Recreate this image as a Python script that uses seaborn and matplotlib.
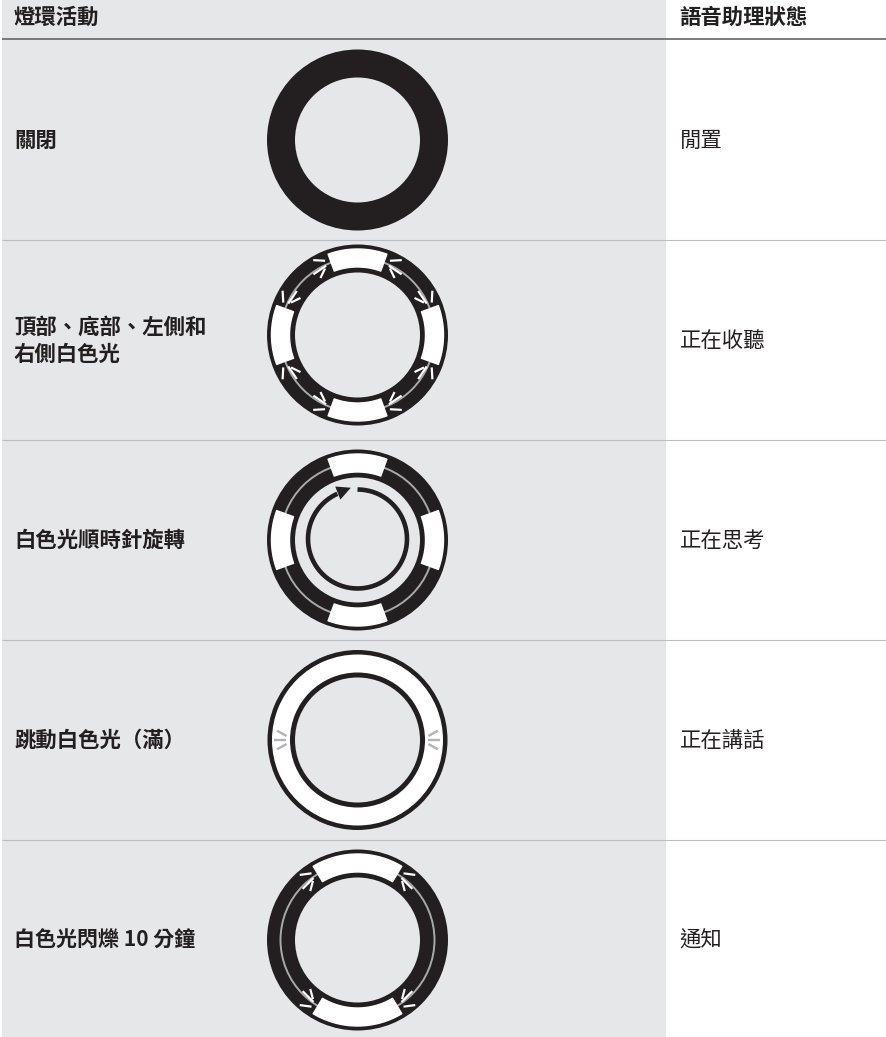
#!/usr/bin/env python3
# light ring status table, drawn on a pixel sized axes
import matplotlib
matplotlib.use("Agg")
import matplotlib.pyplot as plt
from matplotlib.patches import Wedge, Circle
import numpy as np
import pandas as pd
import seaborn as sns

header_left = "燈環活動"
header_right = "語音助理狀態"
activities = ["關閉", "頂部、底部、左側和\n右側白色光", "白色光順時針旋轉", "跳動白色光（滿）", "白色光閃爍 10 分鐘"]
states = ["閒置", "正在收聽", "正在思考", "正在講話", "通知"]

row_tops = [40, 240, 440, 640, 840]
row_heights = [200, 200, 200, 200, 197]
ring_ys = [140, 335, 540, 740, 940]
text_ys = [140, 341, 540, 740, 940.5]
text_sizes = [15.4, 15.4, 15.4, 15.4, 15.1]

# clock angles (degrees from 12 o'clock) of the lit segments per row
seg_centres = [[], [0, 90, 180, 270], [0, 90, 180, 270], [], [0, 180]]
seg_halfwidths = [0, 20, 20, 0, 31]
ray_rows = [False, True, False, False, True]

# ticks next to a segment edge: offset angle and radius at both ends
tick_a1 = [3.6, 13.0, 4.4]
tick_r1 = [81, 68, 76]
tick_a2 = [10.6, 6.0, 16.0]
tick_r2 = [87, 74, 75]

INK = "#231f20"
BAND = "#e6e7e8"
GREY = "#a7a9ac"
RC = 357.5
FS = 15.4

sns.set_theme(style="white", rc={"lines.solid_capstyle": "butt"})
plt.rcParams["font.family"] = ["Noto Sans CJK TC", "DejaVu Sans"]


def clock(cx, cy, r, a):
    a = np.radians(a)
    return cx + r * np.sin(a), cy - r * np.cos(a)


def draw_lines(ax, segs, color, px):
    rows = []
    for i, (xs, ys) in enumerate(segs):
        for x, y in zip(xs, ys):
            rows.append({"x": x, "y": y, "seg": i})
    df = pd.DataFrame(rows)
    sns.lineplot(data=df, x="x", y="y", units="seg", estimator=None, sort=False,
                 color=color, linewidth=px * 0.72, ax=ax, legend=False, zorder=6)


def segment(ax, cx, cy, mid, half):
    a = np.linspace(mid - half, mid + half, 40)
    xo, yo = clock(cx, cy, 86, a)
    xi, yi = clock(cx, cy, 68, a[::-1])
    ax.fill(np.r_[xo, xi], np.r_[yo, yi], color="white", lw=1.0, joinstyle="round", zorder=5)


def edge_ticks(cx, cy, edge, side):
    out = []
    for a1, r1, a2, r2 in zip(tick_a1, tick_r1, tick_a2, tick_r2):
        x1, y1 = clock(cx, cy, r1, edge + side * a1)
        x2, y2 = clock(cx, cy, r2, edge + side * a2)
        out.append(([x1, x2], [y1, y2]))
    return out


fig = plt.figure(figsize=(8.87, 10.37), dpi=100)
ax = fig.add_axes([0, 0, 1, 1])

bands = pd.DataFrame({"row": [t + h / 2 for t, h in zip(row_tops, row_heights)], "width": [664] * 5})
sns.barplot(data=bands, x="width", y="row", orient="h", native_scale=True, left=2,
            width=200, color=BAND, saturation=1, edgecolor=BAND, linewidth=0, ax=ax)
ax.set_xlim(0, 887)
ax.set_ylim(1037, 0)
ax.axis("off")

# header + row rules
ax.text(13.5, 17.5, header_left, fontsize=FS, fontweight="black", color=INK, va="center", ha="left")
ax.text(679.5, 17.5, header_right, fontsize=FS, fontweight="black", color=INK, va="center", ha="left")
ax.plot([2, 887], [39, 39], color="#58595b", lw=1.1, zorder=3)
for t in row_tops[1:]:
    ax.plot([2, 887], [t, t], color="#bcbec0", lw=0.8, zorder=3)

for i in range(len(row_tops)):
    cy = ring_ys[i]
    ax.text(14, text_ys[i], activities[i], fontsize=text_sizes[i], fontweight="black", color=INK, va="center", ha="left", linespacing=1.35)
    ax.text(679.5, row_tops[i] + 101, states[i], fontsize=FS, color=INK, va="center", ha="left")

    if i == 3:
        # full white ring, only thin outlines
        ax.add_patch(Wedge((RC, cy), 90, 0, 360, width=27.5, color=INK, lw=0, zorder=4))
        ax.add_patch(Wedge((RC, cy), 85.5, 0, 360, width=18, color="white", lw=0, zorder=5))
        ticks = []
        for mid in (90, 270):
            ticks.append(clock(RC, cy, np.array([71, 83]), np.array([mid, mid])))
            for side in (-1, 1):
                ticks.append(clock(RC, cy, np.array([71, 81]), mid + side * np.array([3.2, 6.6])))
        draw_lines(ax, ticks, "#b1b3b6", 2.4)
        continue

    ax.add_patch(Wedge((RC, cy), 90.5, 0, 360, width=28, color=INK, lw=0, zorder=4))
    if i > 0:
        ax.add_patch(Circle((RC, cy), 77, fill=False, edgecolor=GREY, lw=1.4, zorder=4.5))
    ticks = []
    for mid in seg_centres[i]:
        segment(ax, RC, cy, mid, seg_halfwidths[i])
        if ray_rows[i]:
            ticks += edge_ticks(RC, cy, mid - seg_halfwidths[i], -1)
            ticks += edge_ticks(RC, cy, mid + seg_halfwidths[i], 1)
    if ticks:
        draw_lines(ax, ticks, "white", 2.2)

    if i == 2:
        # clockwise arrow in the middle of the ring
        a = np.linspace(0, 336, 150)
        xs, ys = clock(RC, cy - 1, 49.5, a)
        draw_lines(ax, [(xs, ys)], INK, 4.6)
        hx, hy = clock(RC, cy - 1, np.array([57, 43, 51.7]), np.array([-23, -23.5, -7.4]))
        ax.fill(hx, hy, color=INK, lw=0, zorder=7)

ax.set_xlabel("")
ax.set_ylabel("")
fig.savefig("out.png", dpi=100)
